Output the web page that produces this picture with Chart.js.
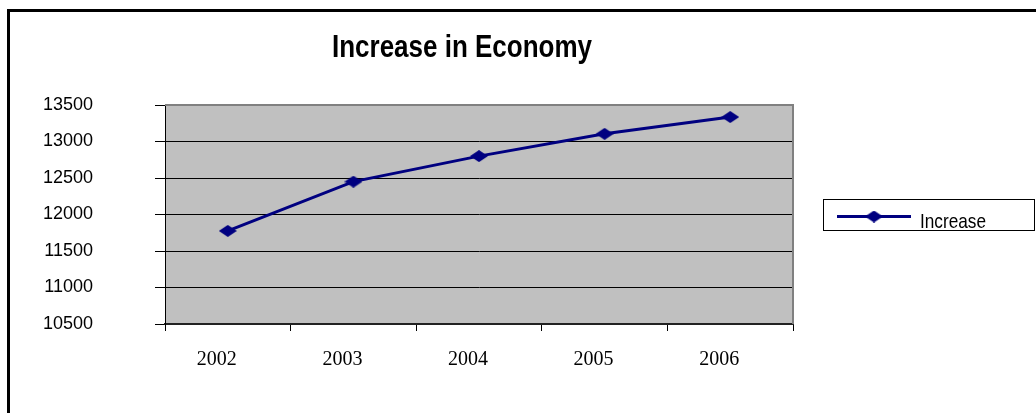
<!DOCTYPE html>
<html><head><meta charset="utf-8">
<script src="https://cdn.jsdelivr.net/npm/chart.js@4/dist/chart.umd.min.js"></script>
<style>
html,body{margin:0;padding:0;background:#fff;}
#wrap{position:relative;width:1036px;height:413px;overflow:hidden;}
#frame{position:absolute;left:7px;top:9px;width:1100px;height:500px;border-left:3px solid #000;border-top:3px solid #000;pointer-events:none;}
canvas{position:absolute;left:0;top:0;}
</style></head><body>
<div id="wrap"><canvas id="c" width="1036" height="413"></canvas><div id="frame"></div></div>
<script>
const titleText = 'Increase in Economy';
const seriesName = 'Increase';
const categories = ['2002', '2003', '2004', '2005', '2006'];
const values = [11775, 12450, 12800, 13105, 13335];
const yMin = 10500, yMax = 13500, yStep = 500;

const NAVY = '#000080';
function makeDiamond(w, h, color) {
  const c = document.createElement('canvas');
  c.width = w; c.height = h;
  const g = c.getContext('2d');
  g.fillStyle = color;
  g.beginPath();
  g.moveTo(w / 2, 0); g.lineTo(w, h / 2); g.lineTo(w / 2, h); g.lineTo(0, h / 2);
  g.closePath(); g.fill();
  return c;
}
const diamond = makeDiamond(18, 12, NAVY);

function drawFitText(ctx, text, font, x, y, targetW, align) {
  ctx.save();
  ctx.font = font;
  const w = ctx.measureText(text).width;
  const sx = targetW / w;
  ctx.textBaseline = 'alphabetic';
  ctx.textAlign = 'left';
  let left = align === 'center' ? x - targetW / 2 : x;
  ctx.translate(left, y);
  ctx.scale(sx, 1);
  ctx.fillStyle = '#000';
  ctx.fillText(text, 0, 0);
  ctx.restore();
}

const decor = {
  id: 'decor',
  beforeDraw(chart) {
    const { ctx, chartArea: a } = chart;
    ctx.save();
    ctx.fillStyle = '#c0c0c0';
    ctx.fillRect(a.left, a.top, a.right - a.left, a.bottom - a.top);
    ctx.restore();
  },
  beforeDatasetsDraw(chart) {
    const { ctx, chartArea: a } = chart;
    ctx.save();
    ctx.strokeStyle = '#808080';
    ctx.lineWidth = 2;
    ctx.beginPath();
    ctx.moveTo(a.left, a.top);
    ctx.lineTo(a.right, a.top);
    ctx.lineTo(a.right, a.bottom);
    ctx.stroke();
    ctx.restore();
  },
  afterDraw(chart) {
    const ctx = chart.ctx;
    // title
    drawFitText(ctx, titleText, 'bold 32px "Liberation Sans", Arial, sans-serif', 462, 57, 260, 'center');
    // legend
    ctx.save();
    ctx.strokeStyle = '#000';
    ctx.lineWidth = 1;
    ctx.strokeRect(823.5, 199.5, 211, 31);
    ctx.strokeStyle = NAVY;
    ctx.lineWidth = 3;
    ctx.beginPath();
    ctx.moveTo(837, 216.5);
    ctx.lineTo(911, 216.5);
    ctx.stroke();
    ctx.drawImage(diamond, 874 - 9, 216.5 - 6);
    ctx.restore();
    drawFitText(ctx, chart.data.datasets[0].label, '21px "Liberation Sans", Arial, sans-serif', 920, 228, 66, 'left');
  }
};

new Chart(document.getElementById('c'), {
  type: 'line',
  data: {
    labels: categories,
    datasets: [{
      label: seriesName,
      data: values,
      borderColor: NAVY,
      backgroundColor: NAVY,
      borderWidth: 3,
      tension: 0,
      pointStyle: diamond,
      pointRadius: 9,
      fill: false
    }]
  },
  options: {
    responsive: false,
    animation: false,
    devicePixelRatio: 1,
    layout: { padding: { left: 0, right: 243, top: 105, bottom: 29 } },
    plugins: { legend: { display: false }, title: { display: false }, tooltip: { enabled: false } },
    scales: {
      x: {
        type: 'category',
        offset: true,
        afterFit(s) { s.height = 60; },
        grid: { display: true, drawOnChartArea: false, drawTicks: true, tickLength: 7, color: '#000', offset: true },
        border: { display: true, color: '#222', width: 2 },
        ticks: { color: '#000', font: { family: '"Liberation Serif", "Times New Roman", serif', size: 20 }, padding: 17, labelOffset: -11, maxRotation: 0 }
      },
      y: {
        min: yMin, max: yMax,
        afterFit(s) { s.width = 165; },
        grid: {
          color: (c) => (c.tick && c.tick.value === yMax) ? 'rgba(0,0,0,0)' : '#000',
          tickColor: '#000',
          lineWidth: 1,
          drawTicks: true,
          tickLength: 10
        },
        border: { display: true, color: '#000', width: 1 },
        ticks: {
          stepSize: yStep,
          color: '#000',
          padding: 62,
          font: { family: '"Liberation Sans", Arial, sans-serif', size: 18 },
          callback: (v) => String(v)
        }
      }
    }
  },
  plugins: [decor]
});
</script>
</body></html>
